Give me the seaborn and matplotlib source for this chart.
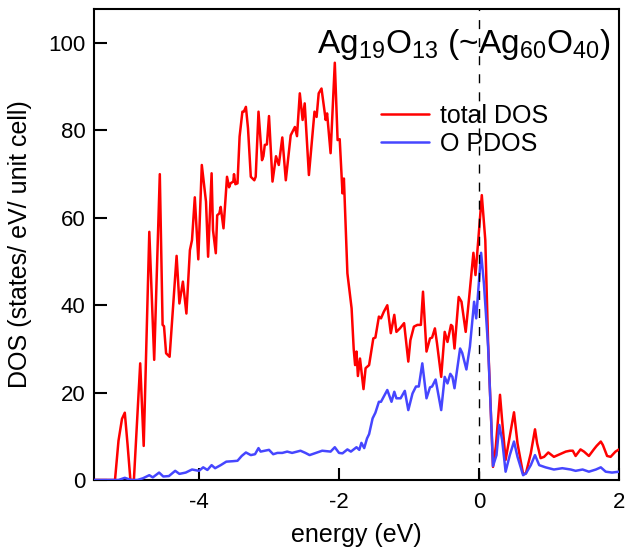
import numpy as np
import pandas as pd
import matplotlib
matplotlib.use("Agg")
import matplotlib.pyplot as plt
import seaborn as sns

# --- 1. data ---
total_energy = [
    -5.50, -5.20, -5.15, -5.10, -5.06, -5.02, -4.98, -4.93, -4.84, -4.79,
    -4.71, -4.64, -4.56, -4.52, -4.50, -4.47, -4.42, -4.32, -4.28, -4.23,
    -4.18, -4.13, -4.10, -4.06, -4.01, -3.96, -3.90, -3.87, -3.82, -3.80,
    -3.76, -3.74, -3.71, -3.69, -3.65, -3.60, -3.57, -3.55, -3.51, -3.50,
    -3.48, -3.45, -3.42, -3.38, -3.36, -3.33, -3.30, -3.26, -3.21, -3.19,
    -3.15, -3.10, -3.08, -3.06, -3.03, -3.00, -2.95, -2.90, -2.86, -2.81,
    -2.76, -2.69, -2.63, -2.60, -2.56, -2.52, -2.49, -2.43, -2.35, -2.32,
    -2.29, -2.25, -2.19, -2.17, -2.12, -2.06, -2.02, -1.99, -1.95, -1.93,
    -1.88, -1.82, -1.79, -1.77, -1.75, -1.73, -1.70, -1.65, -1.62, -1.57,
    -1.51, -1.48, -1.43, -1.40, -1.36, -1.31, -1.26, -1.21, -1.18, -1.13,
    -1.07, -1.01, -0.98, -0.93, -0.88, -0.83, -0.80, -0.75, -0.70, -0.67,
    -0.63, -0.60, -0.54, -0.49, -0.45, -0.40, -0.38, -0.35, -0.29, -0.25,
    -0.19, -0.14, -0.08, -0.05, -0.01, 0.04, 0.09, 0.13, 0.18, 0.20,
    0.24, 0.30, 0.33, 0.38, 0.43, 0.50, 0.55, 0.63, 0.67, 0.74,
    0.80, 0.83, 0.88, 0.93, 0.99, 1.07, 1.17, 1.24, 1.30, 1.34,
    1.38, 1.45, 1.50, 1.57, 1.64, 1.68, 1.74, 1.77, 1.83, 1.88,
    1.95, 2.00,
]
total_dos = [
    0.0, 0.0, 9.0, 14.0, 15.4, 8.0, 0.0, 0.0, 26.7, 7.8,
    56.8, 27.5, 70.0, 35.5, 35.2, 29.0, 28.2, 51.3, 40.4, 45.4,
    38.1, 52.6, 54.9, 64.7, 50.5, 72.1, 63.7, 51.1, 70.2, 57.2,
    51.9, 60.6, 61.0, 62.5, 57.6, 69.4, 67.0, 67.9, 68.3, 70.0,
    67.7, 67.9, 78.6, 84.3, 84.3, 85.4, 80.5, 69.4, 68.6, 69.4,
    84.3, 73.2, 74.1, 76.7, 76.8, 83.3, 68.3, 74.1, 72.1, 78.4,
    68.6, 78.9, 80.8, 78.7, 88.5, 82.4, 86.2, 69.8, 84.3, 83.1,
    88.5, 89.6, 82.4, 83.9, 74.8, 95.5, 77.8, 78.0, 65.6, 69.0,
    47.3, 39.3, 30.0, 26.3, 29.4, 23.8, 27.8, 20.8, 25.6, 26.3,
    32.4, 32.6, 37.4, 37.0, 38.5, 40.0, 33.6, 37.8, 33.9, 34.7,
    35.9, 27.1, 32.0, 35.1, 35.5, 35.5, 43.1, 29.4, 32.4, 32.6,
    34.7, 31.3, 23.6, 33.9, 31.6, 35.5, 35.2, 30.1, 41.9, 40.8,
    33.9, 41.9, 52.0, 46.9, 55.0, 65.2, 54.9, 31.3, 10.7, 3.0,
    7.6, 19.5, 13.7, 4.6, 9.2, 15.5, 8.4, 1.4, 1.5, 6.1,
    11.6, 8.4, 5.0, 5.3, 6.3, 5.3, 6.0, 6.5, 6.7, 6.7,
    5.5, 7.0, 6.5, 5.5, 7.0, 7.8, 8.8, 8.0, 5.5, 5.3,
    6.5, 7.0,
]

o_energy = [
    -5.50, -5.15, -5.06, -4.97, -4.88, -4.80, -4.71, -4.66, -4.57, -4.51,
    -4.43, -4.34, -4.28, -4.19, -4.10, -4.00, -3.94, -3.88, -3.82, -3.77,
    -3.69, -3.61, -3.52, -3.45, -3.39, -3.33, -3.26, -3.20, -3.15, -3.12,
    -3.06, -3.00, -2.94, -2.88, -2.81, -2.74, -2.67, -2.55, -2.48, -2.42,
    -2.33, -2.24, -2.12, -2.06, -2.00, -1.95, -1.88, -1.83, -1.79, -1.75,
    -1.71, -1.68, -1.64, -1.60, -1.57, -1.52, -1.48, -1.43, -1.40, -1.36,
    -1.31, -1.25, -1.21, -1.18, -1.12, -1.06, -1.01, -0.95, -0.90, -0.86,
    -0.81, -0.75, -0.70, -0.67, -0.62, -0.54, -0.49, -0.45, -0.41, -0.38,
    -0.35, -0.27, -0.24, -0.18, -0.13, -0.07, -0.04, 0.03, 0.07, 0.13,
    0.18, 0.20, 0.25, 0.29, 0.33, 0.38, 0.44, 0.50, 0.55, 0.63,
    0.67, 0.74, 0.80, 0.86, 0.95, 1.07, 1.19, 1.31, 1.38, 1.48,
    1.57, 1.67, 1.74, 1.81, 1.90, 2.00,
]
o_pdos = [
    0.0, 0.0, 0.5, 0.0, 0.0, 0.4, 1.1, 0.6, 1.7, 0.8,
    0.9, 2.1, 1.4, 1.7, 2.4, 2.1, 2.9, 2.3, 3.4, 2.7,
    3.4, 4.2, 4.3, 4.4, 5.5, 6.3, 5.7, 5.9, 7.3, 6.5,
    6.7, 6.9, 5.9, 6.2, 6.2, 6.5, 6.2, 6.7, 6.2, 5.7,
    6.2, 6.7, 6.5, 7.5, 6.2, 6.1, 7.0, 6.5, 7.0, 7.5,
    6.9, 8.5, 7.3, 9.5, 10.5, 14.1, 15.4, 17.9, 17.9, 19.1,
    20.6, 17.9, 20.2, 18.7, 18.7, 20.4, 16.0, 19.8, 21.4, 21.4,
    26.7, 18.7, 21.2, 21.4, 23.0, 16.0, 23.6, 22.1, 24.3, 23.6,
    21.0, 30.1, 29.1, 25.3, 30.5, 40.8, 37.0, 52.0, 45.0, 30.5,
    11.4, 3.2, 5.7, 12.6, 9.2, 1.9, 5.7, 8.8, 5.3, 1.1,
    1.5, 3.4, 5.7, 3.4, 2.9, 2.4, 2.7, 2.4, 2.1, 2.4,
    1.9, 2.4, 2.9, 1.9, 1.7, 1.9,
]

x_ticks = [-4, -2, 0, 2]
y_ticks = [0, 20, 40, 60, 80, 100]

df_total = pd.DataFrame({"energy": total_energy, "dos": total_dos})
df_o = pd.DataFrame({"energy": o_energy, "dos": o_pdos})

# --- 2. style ---
sns.set_theme(style="white")
plt.rcParams["font.family"] = ["Liberation Sans", "DejaVu Sans"]
plt.rcParams["mathtext.default"] = "regular"
plt.rcParams["text.color"] = "black"

fig = plt.figure(figsize=(6.25, 5.51), dpi=100)
ax = fig.add_axes([94 / 625, 1 - 480 / 551, 525 / 625, 471 / 551])

# --- 3. curves ---
sns.lineplot(data=df_total, x="energy", y="dos", color="#ff0000", linewidth=1.8,
             sort=False, estimator=None, label="total DOS", ax=ax, zorder=3)
sns.lineplot(data=df_o, x="energy", y="dos", color="#4646ff", linewidth=1.8,
             sort=False, estimator=None, label="O PDOS", ax=ax, zorder=4)

# Fermi level
ax.axvline(0, color="black", linewidth=1.0, linestyle=(0, (6.5, 6.5)), zorder=5)

# --- 4. axes formatting ---
ax.set_xlim(-5.5, 2.0)
ax.set_ylim(0, 107.8)
ax.set_xticks(x_ticks)
ax.set_xticklabels([str(t) for t in x_ticks])
ax.set_yticks(y_ticks)
ax.set_xlabel("energy (eV)", fontsize=18, color="black", labelpad=7)
ax.set_ylabel("DOS (states/ eV/ unit cell)", fontsize=18, color="black", labelpad=12)

for sp in ax.spines.values():
    sp.set_visible(True)
    sp.set_color("black")
    sp.set_linewidth(1.5)

ax.tick_params(axis="both", direction="in", length=9, width=1.5,
               labelsize=16, colors="black")
ax.tick_params(axis="x", top=False, bottom=True, pad=9)
ax.tick_params(axis="y", left=True, right=False, pad=6)
ax.grid(False)

ax.text(0.983, 0.907, "Ag$_{19}$O$_{13}$ (~Ag$_{60}$O$_{40}$)",
        transform=ax.transAxes, ha="right", va="baseline", fontsize=24, color="black")

leg = ax.legend(loc="upper left", bbox_to_anchor=(381 / 625, 1 - 104 / 551),
                bbox_transform=fig.transFigure, frameon=False, fontsize=18,
                handlelength=1.9, handletextpad=0.45, labelspacing=0.15,
                borderpad=0, borderaxespad=0)
for txt in leg.get_texts():
    txt.set_color("black")

fig.savefig("out.png", dpi=100)
